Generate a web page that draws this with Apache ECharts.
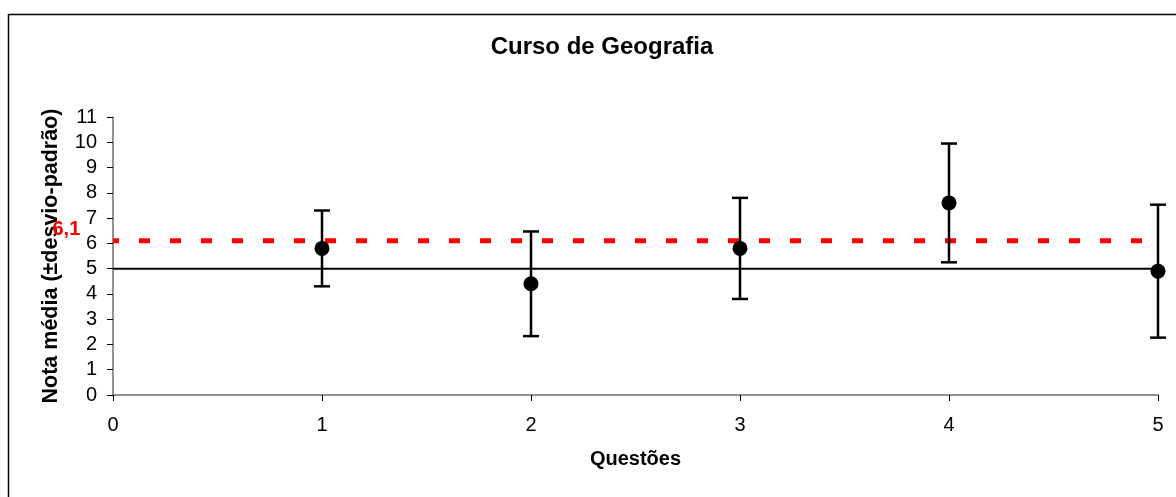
<!DOCTYPE html>
<html>
<head>
<meta charset="utf-8">
<script src="https://cdn.jsdelivr.net/npm/echarts@6/dist/echarts.min.js"></script>
<style>
html,body{margin:0;padding:0;background:#fff;}
#chart{width:1176px;height:497px;}
</style>
</head>
<body>
<div id="chart"></div>
<script>
// ---- data ----
const questions = [1, 2, 3, 4, 5];
const means = [5.8, 4.4, 5.8, 7.6, 4.9];
const stdDevs = [1.5, 2.07, 2.0, 2.35, 2.63];
const referenceLevel = 5;
const courseAverage = 6.1;
const courseAverageLabel = '6,1';
const xRange = [0, 5];
const yRange = [0, 11];

const font = 'Liberation Sans, Arial, sans-serif';

const errorData = questions.map((q, i) => [q, means[i] - stdDevs[i], means[i] + stdDevs[i]]);
const pointData = questions.map((q, i) => [q, means[i]]);

const chart = echarts.init(document.getElementById('chart'));
chart.setOption({
  animation: false,
  backgroundColor: '#fff',
  title: {
    text: 'Curso de Geografia',
    left: 597, textAlign: 'center',
    top: 30,
    textStyle: { fontFamily: font, fontSize: 24, fontWeight: 'bold', color: '#000' }
  },
  graphic: [{
    type: 'rect', silent: true, z: -1,
    shape: { x: 8.5, y: 14.5, width: 1300, height: 700 },
    style: { fill: 'none', stroke: '#000', lineWidth: 1.5 }
  }],
  grid: { left: 113, right: 18, top: 117, bottom: 102 },
  xAxis: {
    type: 'value', min: xRange[0], max: xRange[1], interval: 1,
    name: 'Questões', nameLocation: 'middle', nameGap: 54,
    nameTextStyle: { fontFamily: font, fontSize: 20, fontWeight: 'bold', color: '#000' },
    axisLine: { show: true, onZero: false, lineStyle: { color: '#6e6e6e', width: 1.5 } },
    axisTick: { show: true, length: 6, lineStyle: { color: '#000', width: 1 } },
    axisLabel: { fontFamily: font, fontSize: 20, color: '#000', margin: 20 },
    splitLine: { show: false }
  },
  yAxis: {
    type: 'value', min: yRange[0], max: yRange[1], interval: 1,
    name: 'Nota média (±desvio-padrão)', nameLocation: 'middle', nameGap: 51,
    nameTextStyle: { fontFamily: font, fontSize: 21.5, fontWeight: 'bold', color: '#000' },
    axisLine: { show: true, lineStyle: { color: '#6e6e6e', width: 1.5 } },
    axisTick: { show: true, length: 6, lineStyle: { color: '#000', width: 1 } },
    axisLabel: { fontFamily: font, fontSize: 20, color: '#000', margin: 16 },
    splitLine: { show: false }
  },
  series: [
    {
      type: 'line', z: 1,
      data: [[xRange[0], courseAverage], [xRange[1], courseAverage]],
      symbol: 'none', silent: true,
      lineStyle: { color: '#ff0000', width: 5, type: [11, 20], dashOffset: 5, cap: 'butt' }
    },
    {
      type: 'line', z: 2,
      data: [[xRange[0], referenceLevel], [xRange[1], referenceLevel]],
      symbol: 'none', silent: true,
      lineStyle: { color: '#000', width: 2 }
    },
    {
      type: 'scatter', z: 6, clip: false, silent: true,
      data: [[xRange[0], courseAverage]],
      symbolSize: 1, itemStyle: { color: 'rgba(0,0,0,0)', opacity: 1 },
      label: {
        show: true, formatter: courseAverageLabel, position: [-60, -21],
        fontFamily: font, fontSize: 20, fontWeight: 'bold', color: '#ff0000'
      },
      labelLayout: { hideOverlap: false }
    },
    {
      type: 'custom', z: 4, clip: false,
      data: errorData,
      renderItem: function (params, api) {
        const x = api.value(0);
        const lo = api.coord([x, api.value(1)]);
        const hi = api.coord([x, api.value(2)]);
        const hw = 8;
        const style = { stroke: '#000', lineWidth: 2.5, fill: 'none' };
        return {
          type: 'group',
          children: [
            { type: 'line', shape: { x1: lo[0], y1: lo[1], x2: hi[0], y2: hi[1] }, style: style },
            { type: 'line', shape: { x1: lo[0] - hw, y1: lo[1], x2: lo[0] + hw, y2: lo[1] }, style: style },
            { type: 'line', shape: { x1: hi[0] - hw, y1: hi[1], x2: hi[0] + hw, y2: hi[1] }, style: style }
          ]
        };
      }
    },
    {
      type: 'scatter', z: 5, clip: false,
      data: pointData,
      symbol: 'circle', symbolSize: 15,
      itemStyle: { color: '#000', opacity: 1 }
    }
  ]
});
</script>
</body>
</html>
